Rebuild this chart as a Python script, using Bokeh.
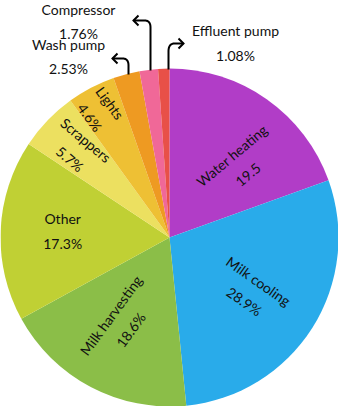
import numpy as np
from bokeh.plotting import figure
from bokeh.models import Range1d, ColumnDataSource
from bokeh.embed import file_html
from bokeh.resources import INLINE
from bokeh.core.properties import value

# ---- data ----
categories = ["Water heating", "Milk cooling", "Milk harvesting", "Other",
              "Scrappers", "Lights", "Wash pump", "Compressor", "Effluent pump"]
values = [19.5, 28.9, 18.6, 17.3, 5.7, 4.6, 2.53, 1.76, 1.08]
value_labels = ["19.5", "28.9%", "18.6%", "17.3%", "5.7%", "4.6%", "2.53%", "1.76%", "1.08%"]
colors = ["#B13DC7", "#29ABEA", "#8BBE48", "#C0D034", "#ECE060",
          "#EEC034", "#EE9A22", "#F06898", "#E85048"]

# ---- layout / style ----
W, H = 338, 406
cx, cy, R = 169, 169, 169          # pie centre and radius (pixel-like data units)
FONT = value("Lato")
FS = "14px"

vals = np.array(values, dtype=float)
frac = vals / vals.sum()
cum_end = np.cumsum(frac)
cum_start = cum_end - frac
start_deg = 90 - 360 * cum_end
end_deg = 90 - 360 * cum_start
mid_deg = 90 - 360 * (cum_start + frac / 2)

src = ColumnDataSource(dict(
    cat=categories, val=values, color=colors,
    start=np.deg2rad(start_deg), end=np.deg2rad(end_deg),
))

p = figure(width=W, height=H, x_range=Range1d(0, W), y_range=Range1d(0, H),
           output_backend="svg", toolbar_location=None, min_border=0,
           x_axis_type=None, y_axis_type=None)
p.grid.visible = False
p.outline_line_color = None
p.background_fill_color = "white"

p.wedge(x=cx, y=cy, radius=R, start_angle="start", end_angle="end",
        fill_color="color", line_color=None, source=src)

# ---- inside labels (first six slices) ----
inside_r = [101, 98, 98, 107, 127, 145]
inside_da = [-9, -1, -2, -1, 0, 1]
inside_rot = [40, -35, 54, 0, -40, -54]
lx, ly, lt, la = [], [], [], []
for i in range(6):
    a = np.deg2rad(mid_deg[i] + inside_da[i])
    lx.append(cx + inside_r[i] * np.cos(a))
    ly.append(cy + inside_r[i] * np.sin(a))
    lt.append(categories[i] + "\n" + value_labels[i])
    la.append(np.deg2rad(inside_rot[i]))
p.text(x=lx, y=ly, text=lt, angle=la, text_align="center", text_baseline="middle",
       text_font=FONT, text_font_size=FS, text_line_height=1.45, text_color="#111111")

# ---- outside labels with curved arrows (small slices) ----
# screen positions converted: data y = 406 - screen y
out_idx = [6, 7, 8]
out_pos = [(68, 406 - 56), (78, 406 - 21), (235, 406 - 42.5)]
for k, i in enumerate(out_idx):
    x, y = out_pos[k]
    p.text(x=[x], y=[y], text=[categories[i] + "\n" + value_labels[i]],
           text_align="center", text_baseline="middle", text_font=FONT,
           text_font_size=FS, text_line_height=1.45, text_color="#111111")

# arrows: (line x, top of vertical part, horizontal level, tip x)
arrows = [(128, 406 - 65, 406 - 58, 112),
          (150, 406 - 27, 406 - 20, 133),
          (168, 406 - 51, 406 - 43, 183)]
for ax, ytop, yh, tipx in arrows:
    ybase = cy + np.sqrt(R ** 2 - (ax - cx) ** 2) - 1
    d = np.sign(tipx - ax)
    t = np.linspace(0, 1, 20)
    # quadratic curve from (ax, ytop) via (ax, yh) to (ax + d*6, yh)
    bx = (1 - t) ** 2 * ax + 2 * (1 - t) * t * ax + t ** 2 * (ax + d * 6)
    by = (1 - t) ** 2 * ytop + 2 * (1 - t) * t * yh + t ** 2 * yh
    xs = [ax] + list(bx) + [tipx]
    ys = [ybase] + list(by) + [yh]
    p.line(xs, ys, line_color="black", line_width=2, line_join="round")
    p.line([tipx - d * 5, tipx, tipx - d * 5], [yh + 5, yh, yh - 5],
           line_color="black", line_width=2, line_join="miter")

open("out.html", "w").write(file_html(p, INLINE))
